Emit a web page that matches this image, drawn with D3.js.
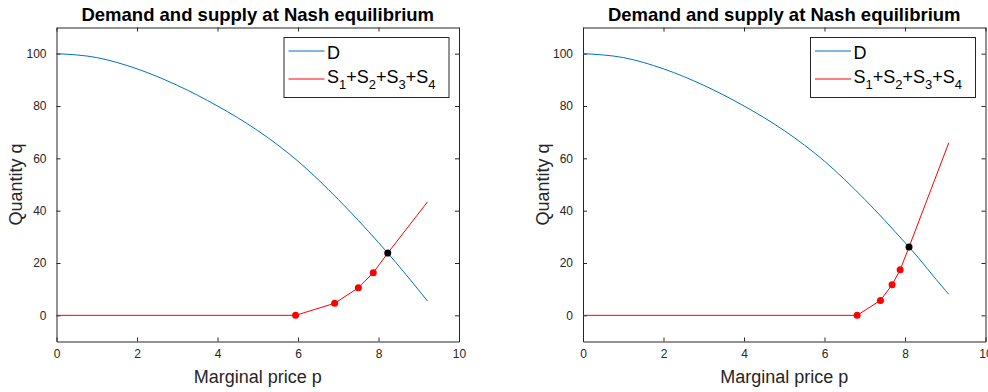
<!DOCTYPE html>
<html>
<head>
<meta charset="utf-8">
<script src="https://cdn.jsdelivr.net/npm/d3@7"></script>
<style>
  body { margin: 0; background: #fff; }
  text { font-family: "Liberation Sans", Arial, Helvetica, sans-serif; }
</style>
</head>
<body>
<svg id="chart" width="988" height="392"></svg>
<script>
// values
const xTicks = [0, 2, 4, 6, 8, 10];
const yTicks = [0, 20, 40, 60, 80, 100];

// left panel
const demandP1 = [0, 1, 2, 3, 4, 5, 6, 7, 8, 8.23, 9, 9.22];
const demandQ1 = [100, 98.5, 94.2, 87.9, 80.0, 70.6, 58.9, 44.3, 27.8, 23.8, 9.6, 5.4];
const supplyP1 = [0, 5.94, 6.91, 7.50, 7.87, 8.23, 9.22];
const supplyQ1 = [0, 0, 4.6, 10.5, 16.3, 23.8, 43.4];
const dotsP1 = [5.94, 6.91, 7.50, 7.87];
const dotsQ1 = [0, 4.6, 10.5, 16.3];
const nashP1 = 8.23, nashQ1 = 23.8;

// right panel
const demandP2 = [0, 1, 2, 3, 4, 5, 6, 7, 8, 8.10, 9, 9.09];
const demandQ2 = [100, 98.5, 94.2, 87.9, 80.0, 70.6, 58.9, 44.3, 27.8, 26.1, 9.6, 8.0];
const supplyP2 = [0, 6.81, 7.39, 7.68, 7.88, 8.10, 9.09];
const supplyQ2 = [0, 0, 5.7, 11.7, 17.4, 26.1, 66.0];
const dotsP2 = [6.81, 7.39, 7.68, 7.88];
const dotsQ2 = [0, 5.7, 11.7, 17.4];
const nashP2 = 8.10, nashQ2 = 26.1;

const blue = '#0072BD';
const red = '#FF0000';
const axisCol = '#262626';

const svg = d3.select('#chart');

function panel(left, dP, dQ, sP, sQ, mP, mQ, nP, nQ) {
  const top = 27.5, bottom = 341.5, right = left + 402.5;

  const x = d3.scaleLinear().domain([0, 10]).range([left, right]);
  const y = d3.scaleLinear().domain([-10, 110]).range([bottom, top]);

  const g = svg.append('g');

  // axes box with inward ticks on all four sides
  g.append('g')
    .attr('transform', 'translate(0,' + bottom + ')')
    .call(d3.axisBottom(x).tickValues(xTicks).tickSizeInner(-4).tickSizeOuter(0).tickPadding(8));
  g.append('g')
    .attr('transform', 'translate(0,' + top + ')')
    .call(d3.axisTop(x).tickValues(xTicks).tickSizeInner(-4).tickSizeOuter(0).tickFormat(''));
  g.append('g')
    .attr('transform', 'translate(' + left + ',0)')
    .call(d3.axisLeft(y).tickValues(yTicks).tickSizeInner(-4).tickSizeOuter(0).tickPadding(10));
  g.append('g')
    .attr('transform', 'translate(' + right + ',0)')
    .call(d3.axisRight(y).tickValues(yTicks).tickSizeInner(-4).tickSizeOuter(0).tickFormat(''));

  g.selectAll('.domain').attr('stroke', axisCol).attr('stroke-width', 1);
  g.selectAll('.tick line').attr('stroke', axisCol);
  g.selectAll('.tick text')
    .attr('fill', axisCol)
    .style('font-size', '12px')
    .style('font-family', '"Liberation Sans", Arial, sans-serif');

  // demand curve
  const demand = d3.line()
    .x((d, i) => x(dP[i]))
    .y(d => y(d))
    .curve(d3.curveMonotoneX);
  g.append('path')
    .attr('d', demand(dQ))
    .attr('fill', 'none')
    .attr('stroke', blue)
    .attr('stroke-width', 1);

  // aggregated supply
  const supply = d3.line()
    .x((d, i) => x(sP[i]))
    .y(d => y(d));
  g.append('path')
    .attr('d', supply(sQ))
    .attr('fill', 'none')
    .attr('stroke', red)
    .attr('stroke-width', 1);

  g.selectAll('circle.s')
    .data(mQ)
    .enter()
    .append('circle')
    .attr('class', 's')
    .attr('cx', (d, i) => x(mP[i]))
    .attr('cy', d => y(d))
    .attr('r', 3.5)
    .attr('fill', red);

  g.append('circle')
    .attr('cx', x(nP))
    .attr('cy', y(nQ))
    .attr('r', 3.5)
    .attr('fill', '#000');

  // title and labels
  g.append('text')
    .attr('x', (left + right) / 2)
    .attr('y', 21)
    .attr('text-anchor', 'middle')
    .style('font-size', '18.5px')
    .style('font-weight', 'bold')
    .attr('fill', '#000')
    .text('Demand and supply at Nash equilibrium');

  g.append('text')
    .attr('x', (left + right) / 2)
    .attr('y', 383)
    .attr('text-anchor', 'middle')
    .style('font-size', '18px')
    .attr('fill', axisCol)
    .text('Marginal price p');

  g.append('text')
    .attr('transform', 'translate(' + (left - 34.5) + ',' + ((top + bottom) / 2) + ') rotate(-90)')
    .attr('text-anchor', 'middle')
    .style('font-size', '18px')
    .attr('fill', axisCol)
    .text('Quantity q');

  // legend
  const lw = 165, lh = 60;
  const lx = right - 10 - lw, ly = top + 10;
  const leg = g.append('g').attr('transform', 'translate(' + lx + ',' + ly + ')');
  leg.append('rect')
    .attr('width', lw).attr('height', lh)
    .attr('fill', '#fff')
    .attr('stroke', axisCol)
    .attr('stroke-width', 1);

  leg.append('line')
    .attr('x1', 4.5).attr('x2', 40.5).attr('y1', 13.5).attr('y2', 13.5)
    .attr('stroke', blue).attr('stroke-width', 1);
  leg.append('line')
    .attr('x1', 4.5).attr('x2', 40.5).attr('y1', 41.5).attr('y2', 41.5)
    .attr('stroke', red).attr('stroke-width', 1);

  leg.append('text')
    .attr('x', 43).attr('y', 21)
    .style('font-size', '18px')
    .attr('fill', '#000')
    .text('D');

  const st = leg.append('text')
    .attr('x', 43).attr('y', 45.5)
    .style('font-size', '18px')
    .attr('fill', '#000');
  [1, 2, 3, 4].forEach((k, i) => {
    st.append('tspan').attr('dy', i === 0 ? 0 : -6).text((i === 0 ? '' : '+') + 'S');
    st.append('tspan').attr('dy', 6).style('font-size', '13px').text(k);
  });
}

panel(56.5, demandP1, demandQ1, supplyP1, supplyQ1, dotsP1, dotsQ1, nashP1, nashQ1);
panel(583, demandP2, demandQ2, supplyP2, supplyQ2, dotsP2, dotsQ2, nashP2, nashQ2);
</script>
</body>
</html>
